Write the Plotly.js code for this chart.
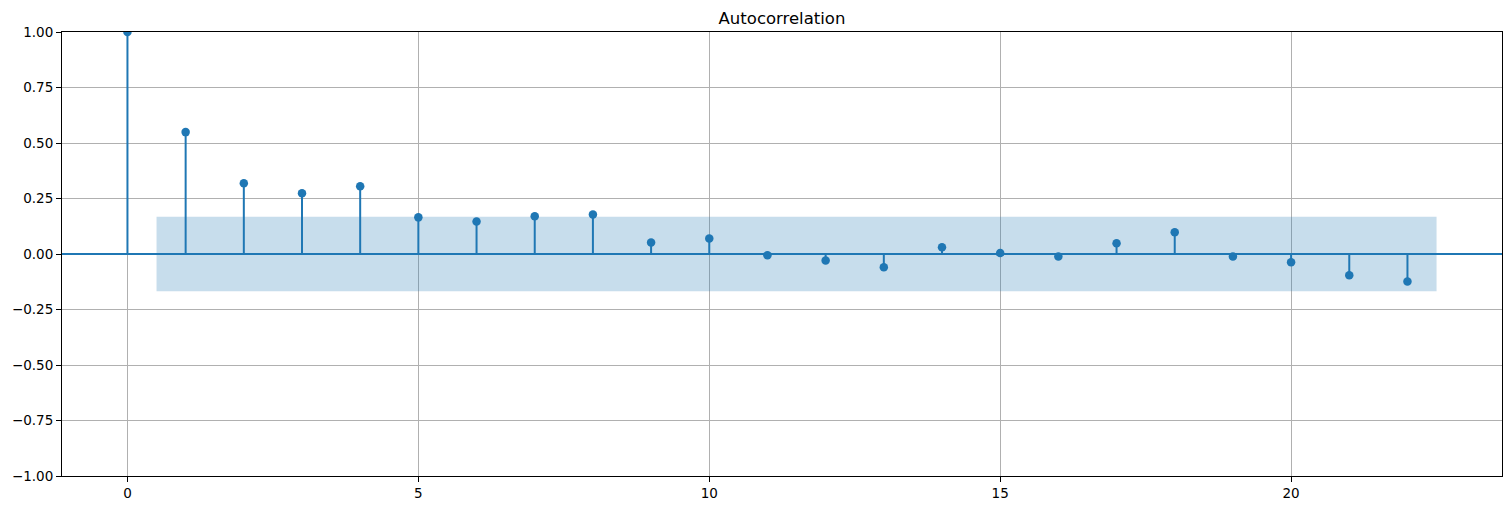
<!DOCTYPE html>
<html>
<head>
<meta charset="utf-8">
<script src="https://cdn.plot.ly/plotly-3.0.1.min.js"></script>
<style>html,body{margin:0;padding:0;background:#fff;}#chart{width:1511px;height:511px;}</style>
</head>
<body>
<div id="chart"></div>
<script>
const lags = [0,1,2,3,4,5,6,7,8,9,10,11,12,13,14,15,16,17,18,19,20,21,22];
const acfValues = [1.0, 0.549, 0.319, 0.274, 0.305, 0.165, 0.146, 0.170, 0.178, 0.052, 0.070, -0.006, -0.029, -0.060, 0.030, 0.004, -0.011, 0.048, 0.098, -0.011, -0.037, -0.096, -0.124];
const confBand = 0.168;
const bandStart = 0.5;
const bandEnd = 22.5;
const xTicks = [0, 5, 10, 15, 20];
const yTicks = [-1, -0.75, -0.5, -0.25, 0, 0.25, 0.5, 0.75, 1];

const blue = '#1f77b4';

const stemX = [], stemY = [];
lags.forEach((l, i) => { stemX.push(l, l, null); stemY.push(0, acfValues[i], null); });

const traces = [
  {
    x: [bandStart, bandEnd, bandEnd, bandStart, bandStart],
    y: [confBand, confBand, -confBand, -confBand, confBand],
    type: 'scatter', mode: 'lines', fill: 'toself',
    fillcolor: 'rgba(31,119,180,0.25)', line: {width: 0},
    hoverinfo: 'skip', showlegend: false
  },
  {
    x: stemX, y: stemY, type: 'scatter', mode: 'lines',
    line: {color: blue, width: 2}, hoverinfo: 'skip', showlegend: false
  },
  {
    x: [-2, 25], y: [0, 0], type: 'scatter', mode: 'lines',
    line: {color: blue, width: 2}, hoverinfo: 'skip', showlegend: false
  },
  {
    x: lags, y: acfValues, type: 'scatter', mode: 'markers',
    marker: {color: blue, size: 8.5}, showlegend: false
  }
];

const layout = {
  width: 1511, height: 511,
  margin: {l: 62, r: 9, t: 32, b: 35},
  paper_bgcolor: '#fff', plot_bgcolor: '#fff',
  font: {family: 'DejaVu Sans', size: 13.5, color: '#000'},
  title: {text: 'Autocorrelation', font: {family: 'DejaVu Sans', size: 16.5, color: '#000'},
          x: 0.5, xref: 'paper', y: 1, yref: 'container', yanchor: 'top', pad: {t: 12}},
  xaxis: {
    range: [-1.125, 23.625], tickvals: xTicks, ticktext: xTicks.map(String),
    showgrid: true, gridcolor: '#b0b0b0', gridwidth: 1, zeroline: false,
    showline: true, linecolor: '#000', linewidth: 1, mirror: true,
    ticks: 'outside', ticklen: 5, tickcolor: '#000', tickwidth: 1,
    tickfont: {family: 'DejaVu Sans', size: 13.5, color: '#000'}
  },
  yaxis: {
    range: [-1, 1], tickvals: yTicks, tickformat: '.2f',
    showgrid: true, gridcolor: '#b0b0b0', gridwidth: 1, zeroline: false,
    showline: true, linecolor: '#000', linewidth: 1, mirror: true,
    ticks: 'outside', ticklen: 5, tickcolor: '#000', tickwidth: 1,
    tickfont: {family: 'DejaVu Sans', size: 13.5, color: '#000'}
  },
  hovermode: false
};

Plotly.newPlot('chart', traces, layout, {displayModeBar: false, staticPlot: true});
</script>
</body>
</html>
